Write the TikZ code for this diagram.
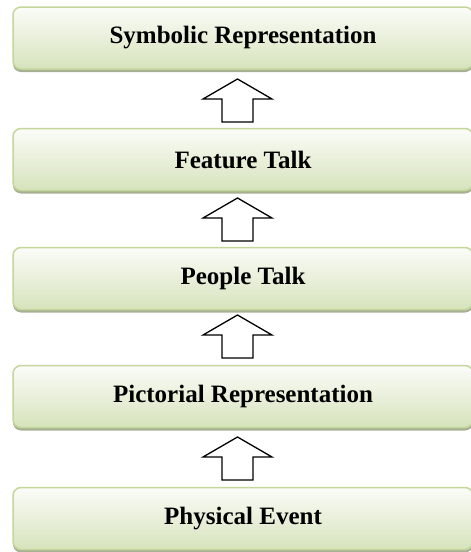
\documentclass[tikz,border=0pt]{standalone}
\usepackage{fontspec}
\setmainfont{Liberation Serif}
\usetikzlibrary{shadows}
\definecolor{boxtop}{HTML}{FBFCF8}
\definecolor{boxbot}{HTML}{D6E3BC}
\definecolor{boxline}{HTML}{C3D69B}
\definecolor{boxshadow}{HTML}{A7B093}
\begin{document}
\begin{tikzpicture}[x=1pt,y=-1pt,
  stagebox/.style={draw=boxline, line width=1.5pt, rounded corners=8pt,
    top color=boxtop, bottom color=boxbot,
    minimum width=460pt, minimum height=62pt, inner sep=0pt,
    font=\fontsize{25}{30}\selectfont\bfseries,
    drop shadow={shadow xshift=0pt, shadow yshift=-3pt, fill=boxshadow, opacity=1}},
  blockarrow/.style={draw=black, line width=1.3pt, fill=white, line join=miter}]
\useasboundingbox (0,0) rectangle (471,552);
\node[stagebox] (sym) at (243,38) {Symbolic Representation};
\node[stagebox] (feat) at (243,159.5) {Feature Talk};
\node[stagebox] (peop) at (243,278.5) {People Talk};
\node[stagebox] (pict) at (243,396.5) {Pictorial Representation};
\node[stagebox] (phys) at (243,518.5) {Physical Event};
\foreach \t in {79,198,315,437}{
  \draw[blockarrow] (237.5,\t) -- ++(34.5,20) -- ++(-19,0) -- ++(0,23) -- ++(-31,0) -- ++(0,-23) -- ++(-19,0) -- cycle;
}
\end{tikzpicture}
\end{document}
